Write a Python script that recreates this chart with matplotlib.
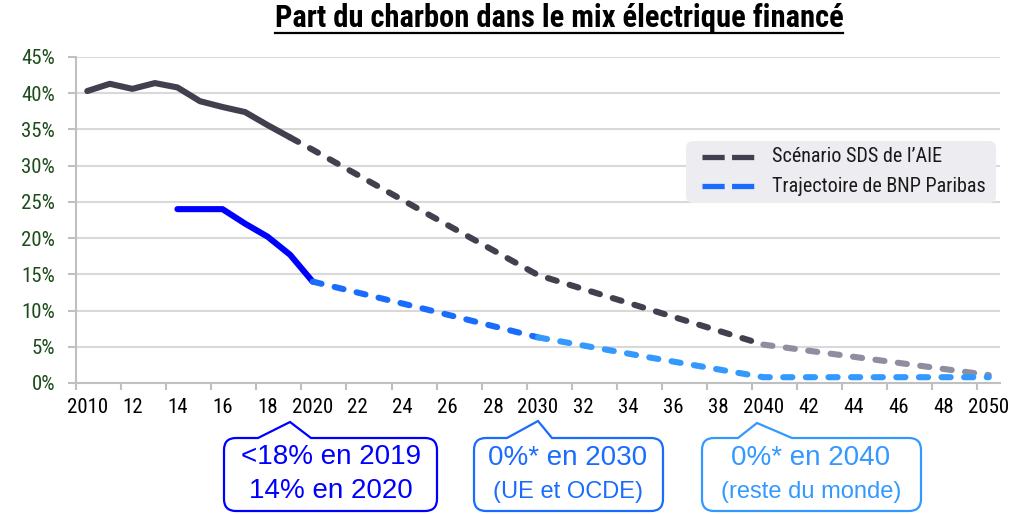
import matplotlib
matplotlib.use('Agg')
import matplotlib.pyplot as plt
from matplotlib.lines import Line2D
from matplotlib.patches import PathPatch, FancyBboxPatch
from matplotlib.path import Path
from matplotlib.transforms import Affine2D, IdentityTransform

narrow = ['Roboto Condensed', 'DejaVu Sans']
plt.rcParams['font.family'] = ['Liberation Sans', 'DejaVu Sans']

# IEA SDS scenario (historical part, projection to 2040, then 2040-2050)
iea_hist_years = [2010, 2011, 2012, 2013, 2014, 2015, 2016, 2017, 2018, 2019]
iea_hist = [40.3, 41.3, 40.6, 41.4, 40.8, 38.9, 38.1, 37.4, 35.6, 33.9]
iea_proj_years = [2019, 2020, 2025, 2030, 2035, 2040]
iea_proj = [33.9, 32.2, 23.5, 14.9, 10.1, 5.3]
iea_late_years = [2040, 2045, 2050]
iea_late = [5.3, 3.2, 1.1]

# BNP Paribas trajectory
bnp_hist_years = [2014, 2015, 2016, 2017, 2018, 2019, 2020]
bnp_hist = [24.0, 24.0, 24.0, 22.0, 20.2, 17.7, 14.0]
bnp_2030_years = [2020, 2025, 2030]
bnp_2030 = [14.0, 10.2, 6.3]
bnp_2050_years = [2030, 2035, 2040, 2045, 2050]
bnp_2050 = [6.3, 3.5, 0.8, 0.8, 0.8]

y_ticks = [0, 5, 10, 15, 20, 25, 30, 35, 40, 45]
x_ticks = list(range(2010, 2051, 2))
x_labels = [str(y) if y % 10 == 0 else str(y)[2:] for y in x_ticks]

title = "Part du charbon dans le mix électrique financé"
legend_labels = ["Scénario SDS de l’AIE", "Trajectoire de BNP Paribas"]

dark_grey = '#40404e'
light_grey = '#8e8ea0'
blue_solid = '#0000ff'
blue_mid = '#1a6cff'
blue_light = '#3399ff'

fig = plt.figure(figsize=(10.22, 5.14), dpi=100)
# pixel coords (origin top-left) -> display
pix = Affine2D().scale(1, -1).translate(0, 514).scale(1 / 100) + fig.dpi_scale_trans

ax = fig.add_axes([76 / 1022, 131 / 514, 924 / 1022, 326 / 514])

lw = 4.4
dash = (0, (1.5, 2.2))
ax.plot(iea_hist_years, iea_hist, color=dark_grey, lw=lw,
        solid_capstyle='round', solid_joinstyle='round')
ax.plot(iea_proj_years, iea_proj, color=dark_grey, lw=lw, linestyle=dash,
        dash_capstyle='round')
ax.plot(iea_late_years, iea_late, color=light_grey, lw=lw, linestyle=dash,
        dash_capstyle='round')
ax.plot(bnp_hist_years, bnp_hist, color=blue_solid, lw=lw,
        solid_capstyle='round', solid_joinstyle='round')
ax.plot(bnp_2030_years, bnp_2030, color=blue_mid, lw=lw, linestyle=dash,
        dash_capstyle='round')
ax.plot(bnp_2050_years, bnp_2050, color=blue_light, lw=lw, linestyle=dash,
        dash_capstyle='round')

ax.set_xlim(2009.5, 2050.5)
ax.set_ylim(0, 45)
ax.set_yticks(y_ticks)
ax.set_yticklabels([f"{v}%" for v in y_ticks])
ax.set_xticks(x_ticks)
ax.set_xticklabels(x_labels)
ax.set_xticks([x - 0.5 for x in x_ticks], minor=True)

ax.yaxis.grid(True, color='#d9d9d9', lw=1.5)
ax.set_axisbelow(True)
for s in ['top', 'right']:
    ax.spines[s].set_visible(False)
for s in ['left', 'bottom']:
    ax.spines[s].set_color('#c0c0c0')
    ax.spines[s].set_linewidth(1.5)

ax.tick_params(axis='y', length=6, width=1.5, color='#c0c0c0', pad=9,
               labelsize=15, labelcolor='#1d4d1d')
ax.tick_params(axis='x', which='major', length=0, pad=11, labelsize=15,
               labelcolor='black')
ax.tick_params(axis='x', which='minor', length=5, width=1.5, color='#c0c0c0')
for lab in ax.get_xticklabels() + ax.get_yticklabels():
    lab.set_family(narrow)

# legend
fig.add_artist(FancyBboxPatch((686, 141), 310, 62,
                              boxstyle='round,pad=0,rounding_size=7',
                              transform=pix, facecolor='#ececf1',
                              edgecolor='none'))
leg_colors = [dark_grey, blue_mid]
leg_y = [157, 186]
for lbl, c, yy in zip(legend_labels, leg_colors, leg_y):
    fig.add_artist(Line2D([702, 756], [yy, yy], transform=pix, color=c,
                          lw=3.8, linestyle=(0, (4.2, 1.4)),
                          dash_capstyle='butt'))
    fig.text(772, yy, lbl, transform=pix, ha='left', va='center',
             fontsize=14.5, family=narrow, color='#1a1a1a')

# title with underline
t = fig.text(559, 18, title, transform=pix, ha='center', va='center',
             fontsize=22, fontweight='bold', family=narrow, color='black')
fig.canvas.draw()
bb = t.get_window_extent()
fig.add_artist(Line2D([bb.x0, bb.x1], [bb.y0, bb.y0],
                      transform=IdentityTransform(), color='black', lw=1.6))


def callout(x0, x1, y0, y1, bl, apex, br, color, r=12):
    verts = [(x0 + r, y0), (bl, y0), apex, (br, y0), (x1 - r, y0),
             (x1, y0), (x1, y0 + r), (x1, y1 - r), (x1, y1), (x1 - r, y1),
             (x0 + r, y1), (x0, y1), (x0, y1 - r), (x0, y0 + r), (x0, y0),
             (x0 + r, y0)]
    codes = [Path.MOVETO, Path.LINETO, Path.LINETO, Path.LINETO, Path.LINETO,
             Path.CURVE3, Path.CURVE3, Path.LINETO, Path.CURVE3, Path.CURVE3,
             Path.LINETO, Path.CURVE3, Path.CURVE3, Path.LINETO, Path.CURVE3,
             Path.CURVE3]
    fig.add_artist(PathPatch(Path(verts, codes), transform=pix,
                             facecolor='white', edgecolor=color, lw=1.6))


callout(224, 437, 438, 511, 258, (290, 422), 311, blue_solid)
fig.text(331, 457, "<18% en 2019", transform=pix, ha='center', va='center',
         fontsize=20, color=blue_solid)
fig.text(331, 491, "14% en 2020", transform=pix, ha='center', va='center',
         fontsize=20, color=blue_solid)

callout(474, 663, 438, 511, 507, (538, 421), 552, blue_mid)
fig.text(568, 458, "0%* en 2030", transform=pix, ha='center', va='center',
         fontsize=20, color=blue_mid)
fig.text(568, 492, "(UE et OCDE)", transform=pix, ha='center', va='center',
         fontsize=17, color=blue_mid)

callout(702, 921, 438, 511, 738, (757, 423), 792, blue_light)
fig.text(811, 458, "0%* en 2040", transform=pix, ha='center', va='center',
         fontsize=20, color=blue_light)
fig.text(811, 492, "(reste du monde)", transform=pix, ha='center',
         va='center', fontsize=17, color=blue_light)

fig.savefig('out.png', dpi=100)
